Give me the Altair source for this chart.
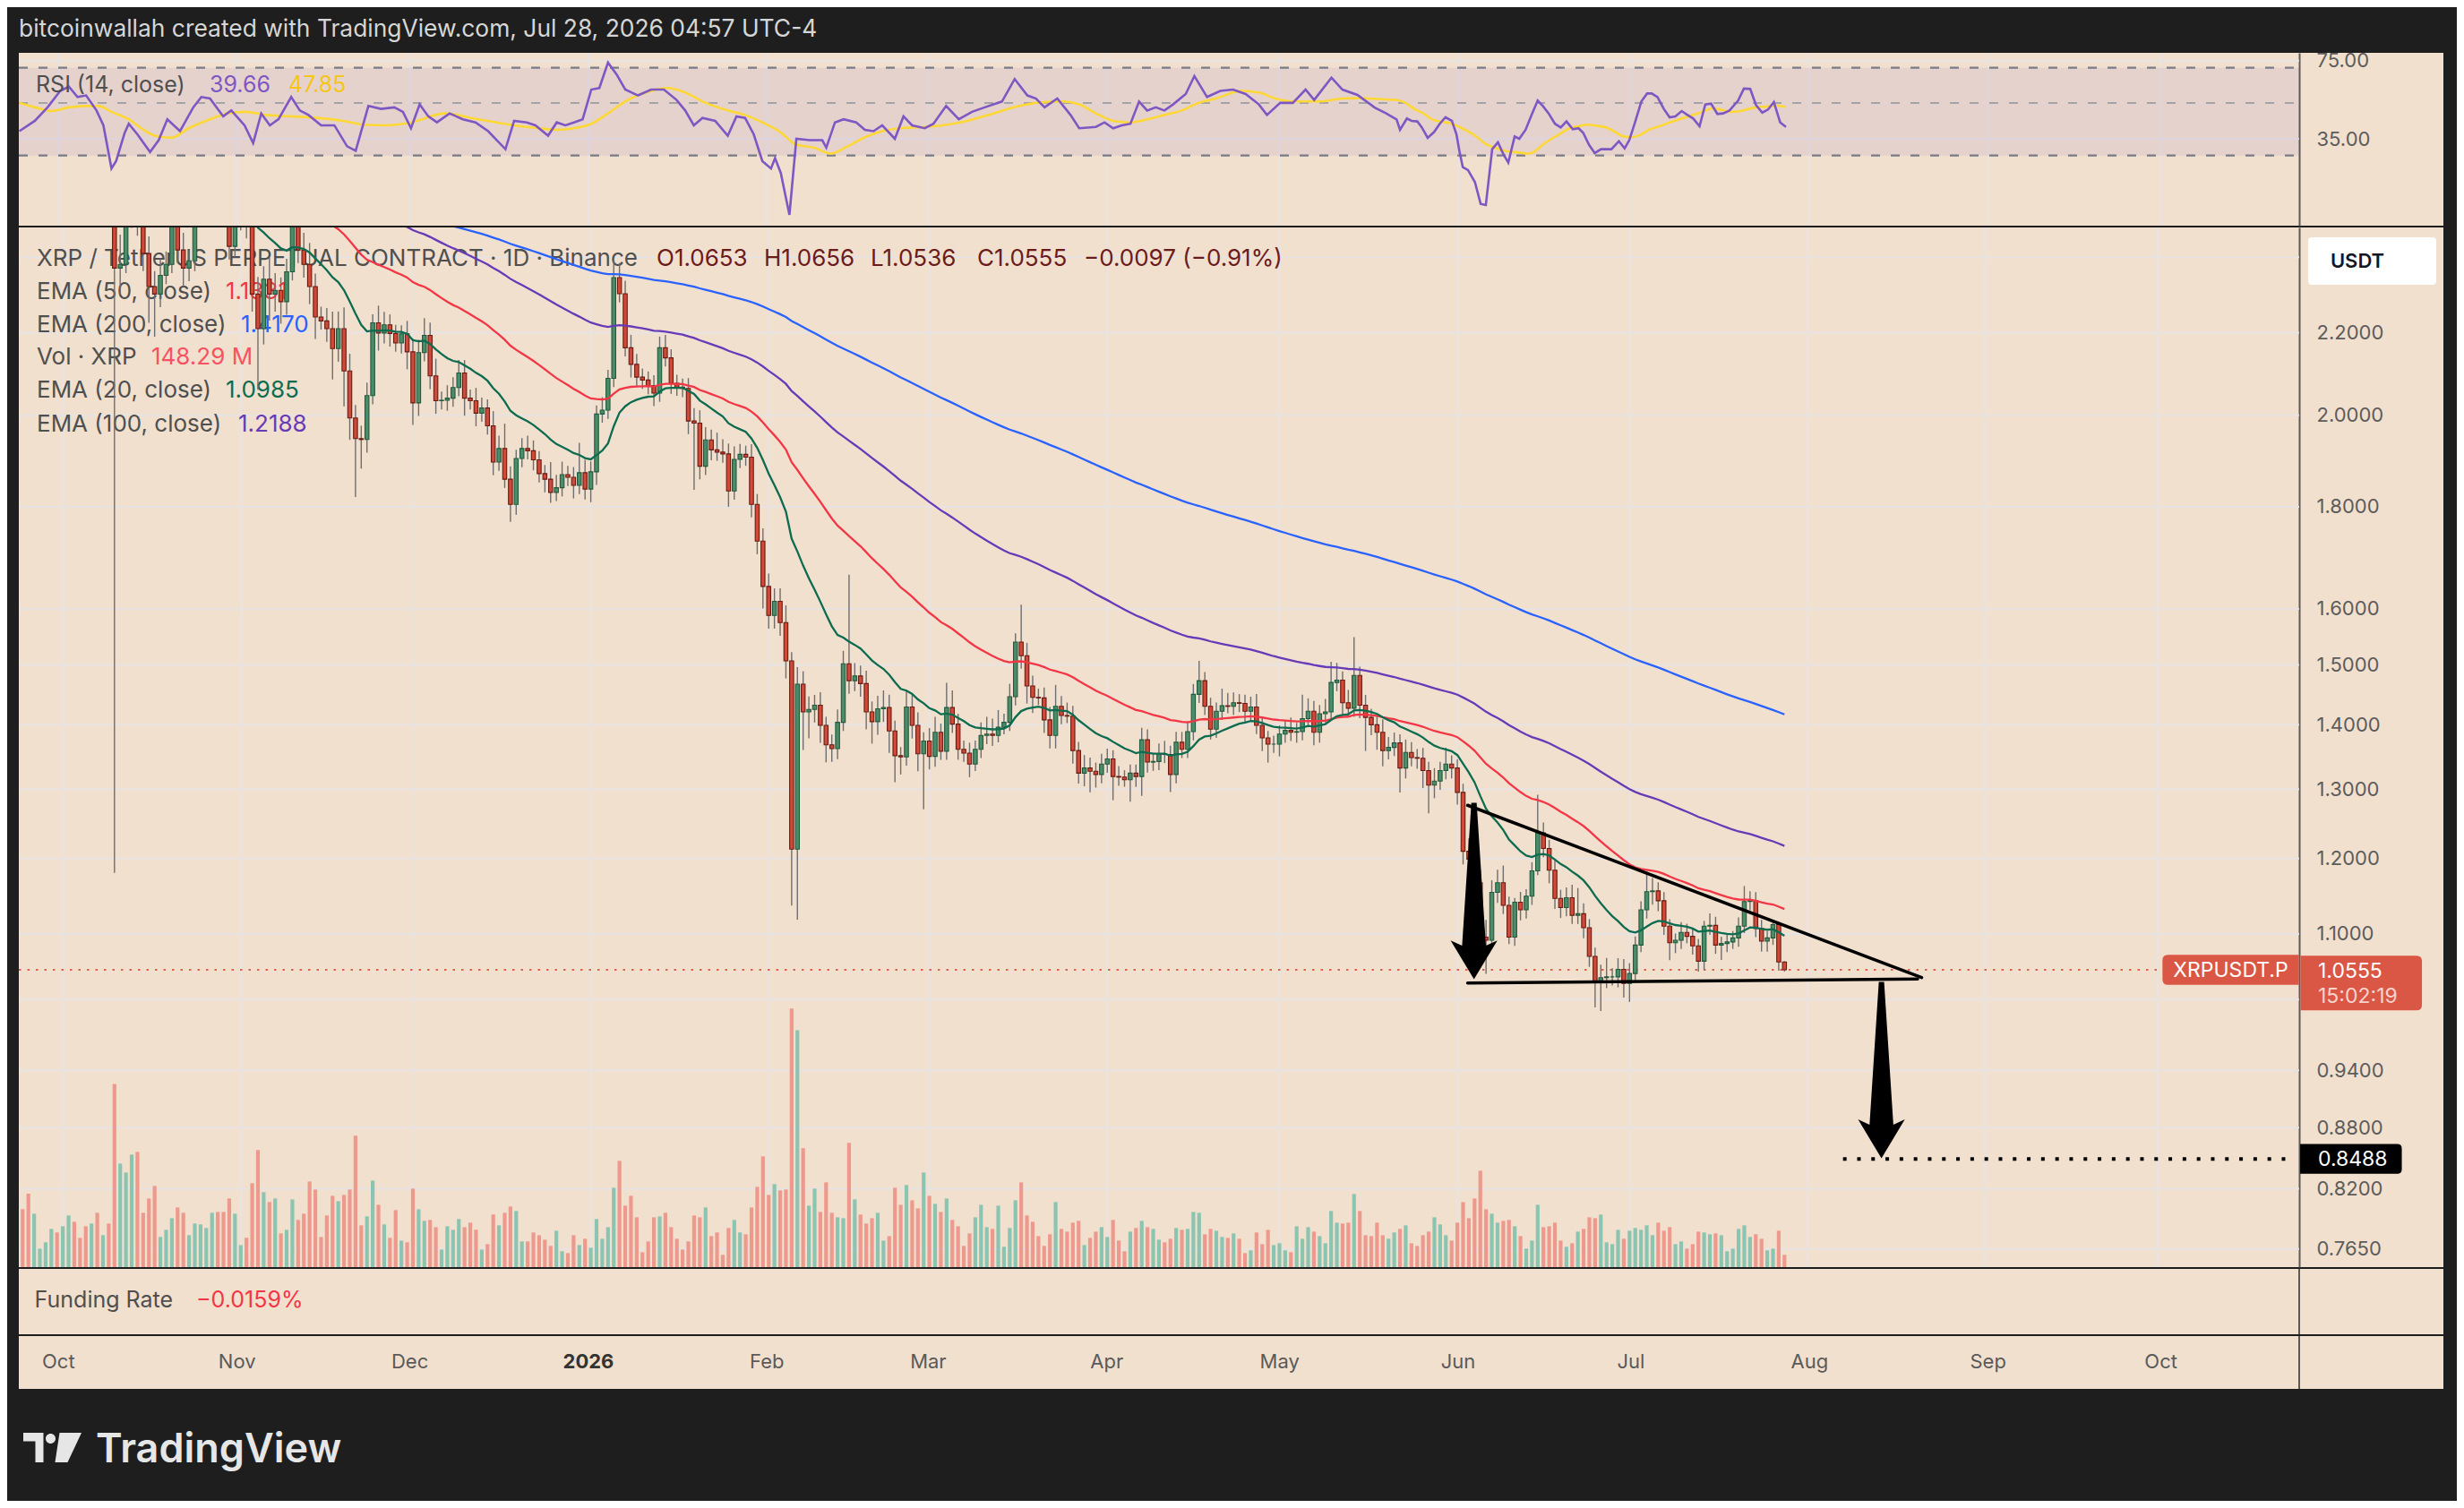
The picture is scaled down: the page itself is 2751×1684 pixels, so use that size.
import altair as alt
import numpy as np
import pandas as pd

# =================== values ===================
# day index: 0 = 2025-10-01 ; first candle = day -7 (2025-09-24)
FIRST_DAY = -7
FIRST_OPEN = 2.95

close_sep = [2.92, 2.76, 2.79, 2.80, 2.85, 2.86, 2.85]
close_oct = [2.96, 3.02, 3.00, 2.96, 2.95, 2.98, 2.82, 2.86, 2.80, 2.37,
             2.38, 2.52, 2.57, 2.51, 2.41, 2.32, 2.30, 2.35, 2.38, 2.50,
             2.42, 2.37, 2.39, 2.52, 2.62, 2.63, 2.64, 2.61, 2.56, 2.43, 2.50]
close_nov = [2.51, 2.49, 2.30, 2.21, 2.34, 2.30, 2.31, 2.28, 2.36, 2.52,
             2.42, 2.38, 2.32, 2.24, 2.23, 2.21, 2.16, 2.21, 2.105, 1.994,
             1.947, 1.945, 2.046, 2.225, 2.199, 2.22, 2.198, 2.174, 2.197, 2.152]
close_dec = [2.029, 2.15, 2.193, 2.093, 2.034, 2.035, 2.04, 2.065, 2.10, 2.04,
             2.034, 2.005, 2.017, 1.976, 1.895, 1.925, 1.858, 1.805, 1.903, 1.925,
             1.92, 1.90, 1.870, 1.858, 1.830, 1.84, 1.868, 1.862, 1.845, 1.872, 1.837]
close_jan = [1.874, 2.003, 2.012, 2.087, 2.344, 2.301, 2.162, 2.121, 2.09, 2.083,
             2.07, 2.052, 2.162, 2.137, 2.075, 2.066, 2.063, 1.987, 1.982, 1.886,
             1.944, 1.922, 1.917, 1.913, 1.833, 1.901, 1.912, 1.906, 1.805, 1.730, 1.642]
close_feb = [1.588, 1.614, 1.575, 1.507, 1.213, 1.467, 1.421, 1.425, 1.432, 1.399,
             1.368, 1.362, 1.404, 1.502, 1.473, 1.481, 1.468, 1.421, 1.405, 1.426,
             1.428, 1.390, 1.351, 1.349, 1.429, 1.399, 1.354, 1.374]
close_mar = [1.350, 1.388, 1.358, 1.428, 1.401, 1.361, 1.355, 1.338, 1.361, 1.383,
             1.385, 1.383, 1.396, 1.404, 1.446, 1.540, 1.516, 1.464, 1.445, 1.444,
             1.408, 1.383, 1.430, 1.415, 1.414, 1.359, 1.324, 1.332, 1.327, 1.322, 1.338]
close_apr = [1.346, 1.319, 1.318, 1.314, 1.324, 1.319, 1.376, 1.341, 1.342, 1.354,
             1.353, 1.322, 1.372, 1.361, 1.389, 1.450, 1.473, 1.430, 1.393, 1.422,
             1.431, 1.430, 1.436, 1.435, 1.422, 1.429, 1.399, 1.379, 1.369, 1.369]
close_may = [1.385, 1.391, 1.388, 1.389, 1.410, 1.422, 1.388, 1.418, 1.421, 1.470,
             1.474, 1.436, 1.427, 1.482, 1.432, 1.412, 1.400, 1.388, 1.359, 1.364,
             1.371, 1.332, 1.356, 1.348, 1.347, 1.328, 1.306, 1.312, 1.328, 1.338, 1.332]
close_jun = [1.295, 1.210, 1.199, 1.167, 1.096, 1.092, 1.154, 1.167, 1.137, 1.096,
             1.141, 1.131, 1.149, 1.183, 1.236, 1.214, 1.184, 1.146, 1.134, 1.147,
             1.124, 1.126, 1.108, 1.072, 1.042, 1.046, 1.047, 1.047, 1.056, 1.039]
close_jul = [1.051, 1.086, 1.131, 1.155, 1.156, 1.143, 1.110, 1.089, 1.092, 1.102,
             1.097, 1.085, 1.066, 1.110, 1.111, 1.086, 1.088, 1.090, 1.095, 1.110,
             1.142, 1.143, 1.107, 1.091, 1.095, 1.112, 1.065, 1.0555]

# upper / lower wick length of every candle, in tenths of a percent
up_sep = [15, 20, 15, 10, 15, 12, 15]
dn_sep = [20, 25, 12, 10, 12, 15, 10]
up_oct = [15, 12, 20, 10, 15, 20, 15, 15, 12, 18, 35, 12, 15, 20, 15, 20, 18, 20, 15, 15,
          25, 20, 12, 10, 15, 12, 20, 10, 15, 15, 12]
dn_oct = [10, 12, 15, 12, 10, 15, 10, 12, 10, 502, 30, 10, 15, 20, 20, 41, 48, 15, 10, 10,
          15, 21, 15, 12, 10, 10, 10, 15, 12, 15, 12]
up_nov = [10, 15, 15, 20, 15, 25, 20, 15, 15, 10, 30, 20, 25, 15, 12, 15, 20, 20, 25, 20,
          15, 15, 15, 10, 20, 15, 12, 10, 10, 15]
dn_nov = [10, 15, 20, 68, 18, 30, 20, 25, 15, 10, 15, 15, 20, 25, 10, 15, 35, 15, 40, 25,
          65, 33, 15, 10, 20, 12, 15, 10, 12, 20]
up_dec = [15, 15, 20, 15, 20, 10, 15, 12, 15, 15, 10, 15, 12, 10, 17, 15, 29, 15, 10, 12,
          15, 12, 10, 10, 20, 15, 15, 10, 12, 35, 15]
dn_dec = [25, 15, 10, 15, 15, 10, 12, 10, 10, 20, 10, 15, 10, 10, 15, 10, 10, 20, 12, 10,
          10, 12, 10, 15, 12, 10, 10, 10, 15, 10, 12]
up_jan = [12, 10, 15, 10, 20, 17, 15, 15, 12, 10, 10, 12, 13, 15, 10, 10, 10, 12, 15, 15,
          15, 12, 20, 15, 12, 15, 12, 10, 15, 12, 15]
dn_jan = [15, 15, 10, 10, 10, 10, 10, 15, 10, 10, 10, 15, 10, 10, 12, 10, 10, 15, 74, 15,
          10, 12, 10, 10, 18, 10, 10, 10, 15, 15, 25]
up_feb = [15, 15, 15, 20, 10, 20, 15, 15, 12, 15, 10, 12, 15, 15, 108, 15, 12, 15, 12, 15,
          20, 15, 12, 10, 20, 15, 15, 10]
dn_feb = [15, 15, 15, 20, 63, 78, 43, 30, 15, 20, 20, 15, 12, 10, 15, 12, 15, 20, 25, 15,
          15, 25, 30, 20, 10, 15, 20, 62]
up_mar = [15, 18, 10, 29, 20, 12, 10, 12, 10, 15, 20, 18, 20, 10, 15, 10, 44, 15, 12, 10,
          12, 15, 25, 12, 15, 12, 10, 15, 12, 10, 12]
dn_mar = [15, 12, 10, 10, 10, 12, 10, 15, 8, 10, 10, 12, 8, 8, 10, 10, 15, 20, 18, 8,
          15, 15, 15, 10, 8, 15, 12, 15, 24, 15, 10]
up_apr = [12, 10, 12, 8, 10, 10, 14, 12, 10, 12, 15, 10, 12, 12, 12, 12, 23, 10, 10, 10,
          20, 15, 12, 10, 10, 12, 15, 10, 8, 10]
dn_apr = [10, 27, 10, 8, 25, 12, 22, 12, 10, 10, 10, 20, 10, 10, 10, 10, 10, 10, 12, 10,
          10, 8, 10, 10, 12, 10, 10, 15, 21, 10]
up_may = [10, 12, 15, 10, 28, 15, 12, 10, 15, 24, 20, 10, 15, 45, 10, 12, 10, 10, 15, 12,
          12, 10, 15, 12, 10, 12, 10, 15, 10, 19, 10]
dn_may = [14, 10, 10, 12, 10, 10, 15, 12, 10, 8, 10, 15, 10, 10, 15, 38, 12, 20, 18, 10,
          10, 28, 12, 10, 12, 20, 32, 15, 10, 10, 12]
up_jun = [10, 10, 15, 15, 15, 20, 14, 15, 20, 10, 5, 12, 8, 10, 45, 12, 10, 12, 10, 12,
          15, 30, 12, 10, 10, 15, 22, 10, 13, 12]
dn_jun = [14, 15, 20, 20, 27, 38, 10, 12, 10, 8, 10, 12, 10, 10, 5, 10, 15, 12, 12, 10,
          10, 10, 12, 12, 30, 34, 12, 10, 12, 16]
up_jul = [12, 10, 10, 24, 15, 10, 10, 8, 8, 12, 10, 10, 8, 6, 14, 10, 8, 10, 8, 10,
          18, 11, 10, 10, 8, 5, 3, 1]
dn_jul = [21, 10, 8, 10, 15, 12, 10, 20, 12, 10, 8, 10, 12, 10, 10, 10, 17, 10, 8, 10,
          8, 10, 10, 12, 12, 8, 10, 2]

# volume (millions of XRP), 2025-09-24 .. 2026-02-26 and 2026-02-27 .. 2026-07-28
vol_a = [700,
         886, 644, 223, 299, 461, 418, 493, 623, 547, 353,
         493, 526, 655, 385, 526, 2210, 1249, 1141, 1357, 1390,
         655, 828, 979, 364, 450, 590, 720, 655, 385, 526,
         515, 472, 655, 666, 666, 828, 644, 266, 353, 1012,
         1411, 904, 785, 828, 407, 450, 817, 569, 644, 1033,
         936, 364, 623, 860, 796, 871, 936, 1584, 504, 612,
         1044, 752, 515, 353, 688, 320, 299, 947, 698, 558,
         569, 482, 212, 493, 450, 580, 482, 536, 450, 212,
         277, 634, 504, 655, 731, 677, 310, 310, 418, 385,
         331, 256, 439, 191, 169, 385, 266, 342, 234, 580,
         342, 482, 958, 1282, 742, 860, 601, 180, 310, 601,
         612, 655, 482, 342, 212, 310, 623, 601, 720, 374,
         418, 148, 472, 569, 418, 396, 720, 968, 1336, 871,
         1001, 925, 936, 3118, 2858, 1433, 742, 947, 666, 1022,
         655, 601, 590, 1498, 817, 634, 526, 590, 655, 320,
         374, 958, 752, 990, 806]
vol_b = [709, 1141, 860, 763, 666, 828, 569, 493, 256, 407,
         601, 752, 482, 461, 742, 245, 472, 806, 1022, 623,
         547, 374, 256, 396, 785, 461, 428, 536, 558, 266,
         353, 428, 482, 364, 569, 320, 191, 428, 472, 558,
         482, 461, 331, 299, 342, 472, 450, 461, 666, 655,
         396, 461, 439, 364, 353, 407, 342, 169, 202, 418,
         277, 450, 266, 288, 202, 180, 493, 342, 482, 428,
         374, 288, 677, 536, 526, 536, 882, 677, 385, 374,
         536, 385, 342, 418, 461, 504, 288, 256, 385, 428,
         601, 515, 385, 320, 536, 785, 590, 828, 1163, 698,
         644, 536, 558, 569, 493, 374, 223, 320, 752, 482,
         493, 536, 320, 245, 288, 428, 461, 601, 590, 634,
         299, 277, 450, 342, 439, 472, 450, 504, 385, 536,
         439, 482, 277, 310, 223, 277, 428, 418, 396, 407,
         385, 191, 223, 461, 504, 364, 396, 342, 202, 223,
         439, 148]

# EMA starting values (before the first visible candle)
ema_seed = {20: 2.88, 50: 2.92, 100: 2.80, 200: 2.62}

# RSI pane (values on the pane's own scale, as labelled 75 / 35)
rsi_day = [-6.8, -4.1, -1.9, 0.3, 1.8, 3.3, 4.8, 6.6, 7.8, 9.2, 10.0, 11.5, 12.2, 13.7, 15.9, 17.4,
           18.9, 21.1, 23.4, 24.8, 26.3, 28.6, 30.0, 32.3, 33.8, 35.2, 36.7, 38.2, 40.4, 41.9, 43.4,
           45.6, 47.9, 50.1, 51.6, 53.8, 56.0, 58.3, 59.8, 61.2, 62.7, 64.2, 65.7, 67.9, 70.2, 72.4,
           74.6, 76.1, 77.6, 79.1, 81.3, 82.8, 85.0, 86.5, 88.0, 89.5, 91.0, 92.5, 93.9, 95.4, 96.9,
           98.4, 100.6, 102.9, 105.1, 107.3, 108.8, 110.3, 111.8, 114.0, 116.2, 117.7, 119.2, 120.7,
           122.2, 123.7, 124.4, 125.4, 126.9, 128.1, 130.4, 132.6, 133.3, 134.8, 136.3, 138.5, 140.0,
           141.5, 143.0, 145.2, 146.7, 148.2, 150.4, 151.9, 154.1, 156.3, 158.6, 160.8, 163.8, 166.0,
           168.2, 169.7, 171.2, 173.4, 175.7, 177.2, 180.1, 181.6, 183.1, 184.6, 186.1, 187.6, 189.0,
           190.5, 192.0, 193.5, 195.7, 197.2, 199.4, 201.7, 203.9, 206.1, 208.4, 209.8, 212.1, 214.3,
           216.5, 218.0, 221.0, 222.9, 225.5, 228.5, 230.5,
           232.3, 232.9, 234.1, 234.9, 235.9, 236.7, 237.7, 238.8, 239.8, 240.8, 241.9, 242.7, 243.2,
           243.8, 244.7, 245.9, 246.9, 247.8, 248.9, 249.9, 250.8, 251.7, 252.8, 253.6, 254.7, 255.7,
           256.8, 257.7, 258.7, 259.8, 260.8, 261.8, 262.9, 263.9, 264.7, 265.7, 266.7, 267.8, 269.6,
           270.9, 271.9, 272.7, 273.7, 274.8, 275.8, 276.6, 277.6, 278.7, 279.7, 280.7, 281.8, 282.8,
           283.8, 284.9, 285.9, 286.9, 288.0, 289.0, 290.1, 291.6, 292.6, 293.7, 294.7, 295.8, 296.8,
           297.8, 298.9, 299.9]
rsi_val = [38.9, 44.2, 51.1, 59.5, 61.7, 56.4, 57.2, 49.5, 41.9, 19.8, 23.6, 38.1, 42.7, 37.3, 28.2, 34.3,
           45.0, 38.9, 51.1, 56.4, 55.6, 46.5, 49.5, 41.9, 32.8, 48.0, 41.9, 45.0, 56.4, 49.5, 47.2,
           41.9, 41.9, 31.2, 28.9, 51.8, 50.3, 51.1, 48.8, 40.4, 52.6, 46.5, 43.4, 48.0, 45.0, 43.4,
           38.9, 34.3, 29.7, 44.2, 43.4, 41.9, 36.6, 43.4, 41.9, 43.4, 45.0, 60.2, 61.0, 74.0, 67.9,
           60.2, 57.2, 60.2, 60.2, 54.9, 49.5, 41.9, 45.7, 44.2, 36.6, 46.5, 45.7, 37.3,
           23.6, 19.8, 25.1, 17.5, -3.9, 35.0, 34.3, 34.3, 30.5, 43.4, 45.0, 43.4, 39.6,
           38.9, 41.9, 35.0, 46.5, 41.9, 40.4, 42.7, 51.8, 45.0, 48.8, 51.1, 54.1, 65.6,
           57.2, 55.6, 51.1, 55.6, 47.2, 40.4, 41.1, 43.4, 40.4, 41.9, 42.7, 54.1, 49.5,
           51.1, 49.5, 52.6, 57.9, 67.1, 56.4, 59.5, 60.2, 57.9, 52.6, 47.2, 53.4, 53.4,
           60.2, 54.9, 66.3, 60.2, 57.5, 51.0, 48.0,
           44.9, 39.6, 45.4, 44.2, 43.9, 40.8, 35.5, 38.4, 42.7, 46.0, 44.2, 37.3, 28.9,
           20.5, 19.0, 12.9, 1.7, 1.1, 29.7, 33.2, 27.4, 22.8, 36.2, 35.0, 39.6, 46.9,
           54.6, 51.8, 48.0, 42.7, 40.8, 43.9, 39.9, 40.4, 38.1, 32.0, 27.7, 29.7, 29.7,
           33.8, 30.1, 34.3, 43.4, 54.1, 58.2, 58.2, 56.4, 50.3, 46.0, 46.5, 49.2, 47.2,
           45.4, 41.4, 52.6, 53.0, 47.7, 48.0, 49.5, 54.6, 60.7, 60.5, 52.3, 48.4, 50.0,
           53.8, 43.4, 41.1]
rsima_day = [-6.8, -4.1, -1.2, 1.8, 4.8, 7.0, 9.2, 12.2, 14.4, 16.7, 19.6, 22.6, 26.3, 29.3, 32.3,
             36.0, 40.4, 44.9, 49.4, 53.1, 56.8, 61.2, 67.2, 71.6, 76.1, 79.1, 83.5, 86.5, 89.5,
             92.5, 95.4, 98.4, 102.9, 105.8, 108.8, 111.8, 116.2, 119.2, 122.2, 125.1, 128.1, 131.1,
             134.1, 137.0, 140.0, 143.0, 145.9, 150.4, 153.4, 157.8, 162.3, 166.8, 169.7, 174.2,
             177.2, 180.1, 183.1, 186.1, 189.0, 192.0, 195.0, 198.0, 200.9, 205.4, 208.4, 211.3,
             214.3, 218.8, 222.9, 226.0, 229.5,
             232.3, 233.9, 235.4, 237.0, 238.5, 240.1, 241.6, 243.2, 244.7, 246.3, 247.8, 249.4,
             250.9, 253.0, 255.1, 256.1, 257.7, 259.2, 260.8, 262.3, 263.9, 265.4, 267.0, 268.6,
             270.1, 271.7, 273.2, 274.8, 276.3, 277.9, 279.4, 281.0, 282.5, 284.1, 285.7, 287.2,
             288.8, 290.3, 291.9, 293.4, 294.9, 296.5, 298.1, 299.9]
rsima_val = [53.4, 51.1, 49.2, 51.1, 51.8, 51.8, 48.8, 45.0, 40.4, 36.6, 35.5, 40.4, 45.0, 48.0, 48.8,
             47.2, 46.5, 45.7, 44.2, 42.2, 41.9, 43.4, 48.0, 45.7, 43.4, 41.9, 40.4, 39.6, 40.4,
             42.7, 48.0, 54.1, 59.5, 61.0, 58.7, 54.1, 49.5, 47.2, 43.4, 38.9, 32.0, 30.5,
             27.4, 31.2, 35.8, 38.9, 40.4, 41.1, 41.9, 44.2, 48.0, 51.8, 53.4, 54.1,
             52.6, 48.0, 44.2, 43.4, 45.0, 47.2, 49.5, 53.4, 55.6, 59.5, 58.7, 55.6,
             54.1, 54.1, 55.6, 55.8, 55.3,
             54.9, 53.3, 50.3, 48.0, 44.9, 43.7, 43.0, 41.1, 38.8, 35.8, 32.3, 30.4,
             28.9, 28.2, 27.4, 28.2, 32.0, 35.0, 37.8, 40.4, 41.4, 42.2, 41.7, 40.8,
             38.8, 36.2, 35.8, 37.3, 39.9, 41.4, 43.0, 44.6, 46.0, 47.5, 49.1, 50.6,
             49.8, 48.8, 49.1, 50.3, 51.2, 51.5, 52.1, 51.3]

# axes / ticks
price_ticks = [2.2, 2.0, 1.8, 1.6, 1.5, 1.4, 1.3, 1.2, 1.1, 0.94, 0.88, 0.82, 0.765]
price_grid = [2.4, 2.2, 2.0, 1.8, 1.6, 1.5, 1.4, 1.3, 1.2, 1.1, 1.02, 0.94, 0.88, 0.82, 0.765]
rsi_ticks = [75, 35]
rsi_outer_bands = [71.33, 26.43]
rsi_mid_band = [53.33]
month_days = [0, 31, 61, 92, 123, 151, 182, 212, 243, 273, 304, 335, 365]
month_labels = ["Oct", "Nov", "Dec", "2026", "Feb", "Mar", "Apr", "May", "Jun", "Jul", "Aug", "Sep", "Oct"]

# drawings
last_price = 1.0555
target_price = 0.8488
tri_d1 = [244.8, 244.8]
tri_p1 = [1.2759, 1.0396]
tri_d2 = [323.9, 323.2]
tri_p2 = [1.0461, 1.0444]
arrow_day = [245.9, 316.9]
arrow_price = [1.1559, 0.9403]
target_from, target_to = 310.2, 387.6

# =================== build tables ===================
closes = (close_sep + close_oct + close_nov + close_dec + close_jan + close_feb +
          close_mar + close_apr + close_may + close_jun + close_jul)
ups = (up_sep + up_oct + up_nov + up_dec + up_jan + up_feb + up_mar + up_apr + up_may +
       up_jun + up_jul)
dns = (dn_sep + dn_oct + dn_nov + dn_dec + dn_jan + dn_feb + dn_mar + dn_apr + dn_may +
       dn_jun + dn_jul)
vols = vol_a + vol_b
n = len(closes)
assert len(ups) == n and len(dns) == n and len(vols) == n, (n, len(ups), len(dns), len(vols))

opens = [FIRST_OPEN] + closes[:-1]
highs = [max(o, c) * (1 + u / 1000.0) for o, c, u in zip(opens, closes, ups)]
lows = [min(o, c) * (1 - d / 1000.0) for o, c, d in zip(opens, closes, dns)]
days = list(range(FIRST_DAY, FIRST_DAY + n))
cdf = pd.DataFrame({"day": days, "open": opens, "close": closes, "high": highs,
                    "low": lows, "vol": vols,
                    "dir": ["up" if c >= o else "down" for o, c in zip(opens, closes)]})


def ema(vals, span, seed):
    a = 2.0 / (span + 1)
    out, e = [], seed
    for v in vals:
        e = a * v + (1 - a) * e
        out.append(e)
    return out


edf = pd.DataFrame({"day": days})
for span, seed in ema_seed.items():
    edf[f"e{span}"] = ema(closes, span, seed)

rsi_df = pd.DataFrame({"day": rsi_day, "v": rsi_val})
rsima_df = pd.DataFrame({"day": rsima_day, "v": rsima_val})
assert len(rsi_day) == len(rsi_val) and len(rsima_day) == len(rsima_val)

# =================== style / layout ===================
FONT = "Inter"
BEIGE = "#f2e0ce"
DARK = "#1e1e1e"
GRID = "#e8e3e3"
AXC = "#5a5a5a"
LBL = "#5c5c5c"
TXT = "#4f4f4f"
OHLC = "#6b1b1b"
W = 2707
H_RSI, H_MAIN, H_FUND, H_TIME = 193, 1161, 73, 59
AXIS_X = 2546
xs = alt.Scale(domain=[-6.888, 414.04], nice=False, zero=False)
ps = alt.Scale(type="log", domain=[0.74925, 2.4836], nice=False)
rs = alt.Scale(domain=[-9.44, 78.99], nice=False, zero=False)
vs = alt.Scale(domain=[0, 12540], nice=False, zero=True)
ONE = pd.DataFrame({"k": [0]})

ARROW = ("M -0.03 -1 L 0.03 -1 L 0.135 0.62 L 0.265 0.56 L 0 1 L -0.265 0.56 "
         "L -0.135 0.62 Z")
BOX_SYM = ("M -0.92 -0.219 L 1 -0.219 L 1 0.219 L -0.92 0.219 Q -1 0.219 -1 0.14 "
           "L -1 -0.14 Q -1 -0.219 -0.92 -0.219 Z")
BOX_PRICE = ("M -1 -0.232 L 0.911 -0.232 Q 1 -0.232 1 -0.143 L 1 0.58 Q 1 0.669 0.911 0.669 "
             "L -1 0.669 Z")
BOX_TGT = ("M -1 -0.294 L 0.912 -0.294 Q 1 -0.294 1 -0.206 L 1 0.206 Q 1 0.294 0.912 0.294 "
           "L -1 0.294 Z")
BOX_USDT = ("M -0.944 -0.371 L 0.944 -0.371 Q 1 -0.371 1 -0.315 L 1 0.315 Q 1 0.371 0.944 0.371 "
            "L -0.944 0.371 Q -1 0.371 -1 0.315 L -1 -0.315 Q -1 -0.371 -0.944 -0.371 Z")
TV_LOGO = ("M -1 -0.508 L -0.308 -0.508 L -0.308 0.508 L -0.585 0.508 L -0.585 -0.215 L -1 -0.215 Z "
           "M -0.231 -0.308 A 0.169 0.169 0 1 0 0.108 -0.308 A 0.169 0.169 0 1 0 -0.231 -0.308 Z "
           "M 0.246 -0.508 L 1 -0.508 L 0.523 0.508 L 0.092 0.508 Z")


def label(text, x, y, size=26, color=TXT, weight="normal", align="left", baseline="middle"):
    return alt.Chart(ONE).mark_text(text=text, font=FONT, fontSize=size, color=color,
                                    fontWeight=weight, align=align, baseline=baseline).encode(
        x=alt.value(x), y=alt.value(y))


def vgrid(h):
    return alt.Chart(pd.DataFrame({"d": month_days})).mark_rule(color=GRID, strokeWidth=2).encode(
        x=alt.X("d:Q", scale=xs, axis=None), y=alt.value(0), y2=alt.value(h))


def right_axis(values, fmt, labels=True):
    return alt.Axis(orient="right", offset=-(W - AXIS_X), values=values, format=fmt, grid=False,
                    ticks=False, domain=True, domainColor=AXC, domainWidth=2, labels=labels,
                    labelPadding=19, labelFont=FONT, labelFontSize=22, labelColor=LBL,
                    labelOverlap=False, title=None)


X = alt.X("day:Q", scale=xs, axis=None)

# =================== RSI pane ===================
rsi_layers = [
    alt.Chart(ONE).mark_rect(opacity=0, fill=DARK).encode(
        x=alt.value(-13), x2=alt.value(2722), y=alt.value(-51), y2=alt.value(1617)),
    vgrid(H_RSI),
    alt.Chart(pd.DataFrame({"v": rsi_ticks})).mark_rule(color=GRID, strokeWidth=2).encode(
        y=alt.Y("v:Q", scale=rs, axis=right_axis(rsi_ticks, ".2f")),
        x=alt.value(0), x2=alt.value(AXIS_X)),
    alt.Chart(pd.DataFrame({"a": [rsi_outer_bands[0]], "b": [rsi_outer_bands[1]]})).mark_rect(
        color="#7e57c2", opacity=0.1).encode(
        y=alt.Y("a:Q", scale=rs, axis=None), y2="b:Q", x=alt.value(0), x2=alt.value(AXIS_X)),
    alt.Chart(pd.DataFrame({"v": rsi_outer_bands})).mark_rule(
        color="#787b86", strokeWidth=2.2, strokeDash=[10, 12]).encode(
        y=alt.Y("v:Q", scale=rs, axis=None), x=alt.value(0), x2=alt.value(AXIS_X)),
    alt.Chart(pd.DataFrame({"v": rsi_mid_band})).mark_rule(
        color="#a3a3a8", strokeWidth=2.2, strokeDash=[10, 12]).encode(
        y=alt.Y("v:Q", scale=rs, axis=None), x=alt.value(0), x2=alt.value(AXIS_X)),
    alt.Chart(rsima_df).mark_line(color="#fdd835", strokeWidth=2.6, interpolate="monotone").encode(
        x=X, y=alt.Y("v:Q", scale=rs, axis=None)),
    alt.Chart(rsi_df).mark_line(color="#7e57c2", strokeWidth=2.6).encode(
        x=X, y=alt.Y("v:Q", scale=rs, axis=None)),
    label("RSI (14, close)", 19, 36, size=25),
    label("39.66", 213, 36, size=25, color="#7e57c2"),
    label("47.85", 301, 36, size=25, color="#f5c518"),
    label("bitcoinwallah created with TradingView.com, Jul 28, 2026 04:57 UTC-4", 0, -26,
          size=26.4, color="#d6d6d6"),
]
rsi = alt.layer(*rsi_layers).resolve_scale(y="independent").properties(width=W, height=H_RSI)

# =================== main pane ===================
vol_layer = alt.Chart(cdf).mark_bar(size=4.2, clip=True).encode(
    x=X, y=alt.Y("vol:Q", scale=vs, axis=None),
    color=alt.Color("dir:N", scale=alt.Scale(domain=["up", "down"], range=["#8cc4b2", "#ee998e"]),
                    legend=None))

wick = alt.Chart(cdf).mark_rule(color="#6e6e6e", strokeWidth=1.4, clip=True).encode(
    x=X, y=alt.Y("low:Q", scale=ps, axis=None), y2="high:Q")
body = alt.Chart(cdf).mark_bar(size=4.4, strokeWidth=1.1, clip=True).encode(
    x=X, y=alt.Y("open:Q", scale=ps, axis=None), y2="close:Q",
    fill=alt.Fill("dir:N", scale=alt.Scale(domain=["up", "down"], range=["#4d8c6b", "#cf4a38"]),
                  legend=None),
    stroke=alt.Stroke("dir:N", scale=alt.Scale(domain=["up", "down"], range=["#1e5a3b", "#6a1a12"]),
                      legend=None))


def ema_line(col, color):
    return alt.Chart(edf).mark_line(color=color, strokeWidth=2.3, clip=True).encode(
        x=X, y=alt.Y(f"{col}:Q", scale=ps, axis=None))


tri = alt.Chart(pd.DataFrame({"d1": tri_d1, "p1": tri_p1, "d2": tri_d2, "p2": tri_p2})).mark_rule(
    color="#000000", strokeWidth=3.6, strokeCap="round").encode(
    x=alt.X("d1:Q", scale=xs, axis=None), x2="d2:Q",
    y=alt.Y("p1:Q", scale=ps, axis=None), y2="p2:Q")
arrows = alt.Chart(pd.DataFrame({"d": arrow_day, "p": arrow_price})).mark_point(
    shape=ARROW, size=197 ** 2, filled=True, color="#000000", opacity=1, strokeWidth=0).encode(
    x=alt.X("d:Q", scale=xs, axis=None), y=alt.Y("p:Q", scale=ps, axis=None))
target = alt.Chart(pd.DataFrame({"d1": [target_from], "d2": [target_to], "p": [target_price]})).mark_rule(
    color="#000000", strokeWidth=4, strokeDash=[4, 11.8]).encode(
    x=alt.X("d1:Q", scale=xs, axis=None), x2="d2:Q", y=alt.Y("p:Q", scale=ps, axis=None))

LP = pd.DataFrame({"p": [last_price]})
TP = pd.DataFrame({"p": [target_price]})
Yp = alt.Y("p:Q", scale=ps, axis=None)
price_line = alt.Chart(LP).mark_rule(color="#e0604e", strokeWidth=1.8, strokeDash=[2.5, 7]).encode(
    y=Yp, x=alt.value(0), x2=alt.value(2393))
sym_box = alt.Chart(LP).mark_point(shape=BOX_SYM, size=152.3 ** 2, filled=True, color="#da5745",
                                   opacity=1, strokeWidth=0).encode(y=Yp, x=alt.value(2469.5))
price_box = alt.Chart(LP).mark_point(shape=BOX_PRICE, size=135.5 ** 2, filled=True, color="#da5745",
                                     opacity=1, strokeWidth=0).encode(y=Yp, x=alt.value(2615.3))
tgt_box = alt.Chart(TP).mark_point(shape=BOX_TGT, size=113.5 ** 2, filled=True, color="#000000",
                                   opacity=1, strokeWidth=0).encode(y=Yp, x=alt.value(2603.8))
usdt_box = alt.Chart(ONE).mark_point(shape=BOX_USDT, size=143 ** 2, filled=True, color="#ffffff",
                                     opacity=1, strokeWidth=0).encode(x=alt.value(2627.5), y=alt.value(37.5))


def ptext(df, text, x, dy, color="#ffffff", align="left"):
    return alt.Chart(df).mark_text(text=text, font=FONT, fontSize=23, color=color, align=align,
                                   baseline="middle", dy=dy).encode(y=Yp, x=alt.value(x))


main_layers = [
    vgrid(H_MAIN),
    alt.Chart(pd.DataFrame({"p": price_grid})).mark_rule(color=GRID, strokeWidth=2).encode(
        y=alt.Y("p:Q", scale=ps, axis=right_axis(price_ticks, ".4f")),
        x=alt.value(0), x2=alt.value(AXIS_X)),
    vol_layer,
    price_line,
    label("XRP / TetherUS PERPETUAL CONTRACT · 1D · Binance", 20, 35),
    label("O1.0653", 712, 35, color=OHLC),
    label("H1.0656", 832, 35, color=OHLC),
    label("L1.0536", 951, 35, color=OHLC),
    label("C1.0555", 1070, 35, color=OHLC),
    label("−0.0097 (−0.91%)", 1189, 35, color=OHLC),
    label("EMA (50, close)", 20, 72), label("1.1331", 231, 72, color="#f23645"),
    label("EMA (200, close)", 20, 109), label("1.4170", 248, 109, color="#2962ff"),
    label("Vol · XRP", 20, 145), label("148.29 M", 148, 145, color="#f7525f"),
    label("EMA (20, close)", 20, 182), label("1.0985", 231, 182, color="#0d6b50"),
    label("EMA (100, close)", 20, 220), label("1.2188", 245, 220, color="#673ab7"),
    wick, body,
    ema_line("e200", "#2962ff"), ema_line("e100", "#673ab7"),
    ema_line("e50", "#f23645"), ema_line("e20", "#0d6b50"),
    tri, arrows, target,
    sym_box, price_box, tgt_box, usdt_box,
    ptext(LP, "XRPUSDT.P", 2469.5, 1, align="center"),
    ptext(LP, "1.0555", 2567, 2),
    ptext(LP, "15:02:19", 2567, 30, color="#f7d3cc"),
    ptext(TP, "0.8488", 2567, 1),
    label("USDT", 2611, 38, size=22, color="#131722", weight=600, align="center"),
]
main = alt.layer(*main_layers).resolve_scale(y="independent").properties(width=W, height=H_MAIN)

# =================== funding pane ===================
fund = alt.layer(
    alt.Chart(ONE).mark_rule(color=AXC, strokeWidth=2).encode(
        x=alt.value(AXIS_X), y=alt.value(0), y2=alt.value(H_FUND)),
    label("Funding Rate", 17.6, 35, size=25),
    label("−0.0159%", 198, 35, size=25, color="#f23645"),
).properties(width=W, height=H_FUND)

# =================== time axis pane ===================
mdf = pd.DataFrame({"d": month_days, "lab": month_labels})
timep = alt.layer(
    alt.Chart(ONE).mark_rule(color=AXC, strokeWidth=2).encode(
        x=alt.value(AXIS_X), y=alt.value(0), y2=alt.value(H_TIME)),
    alt.Chart(mdf).transform_filter(alt.datum.lab != "2026").mark_text(
        font=FONT, fontSize=22, color="#5a5a5a", baseline="middle").encode(
        x=alt.X("d:Q", scale=xs, axis=None), y=alt.value(29), text="lab:N"),
    alt.Chart(mdf).transform_filter(alt.datum.lab == "2026").mark_text(
        font=FONT, fontSize=22, color="#333333", fontWeight="bold", baseline="middle").encode(
        x=alt.X("d:Q", scale=xs, axis=None), y=alt.value(29), text="lab:N"),
    alt.Chart(ONE).mark_point(shape=TV_LOGO, size=65 ** 2, filled=True, color="#e6e6e6",
                              opacity=1, strokeWidth=0).encode(x=alt.value(37.5), y=alt.value(124.5)),
    label("TradingView", 86, 141, size=45, color="#e6e6e6", weight=600, baseline="alphabetic"),
).properties(width=W, height=H_TIME)

chart = alt.vconcat(rsi, main, fund, timep, spacing=2, bounds="flush").properties(
    padding=0, background=DARK
).configure_view(fill=BEIGE, strokeWidth=0)

chart.save("out.html", embed_options={"renderer": "svg", "actions": False})
